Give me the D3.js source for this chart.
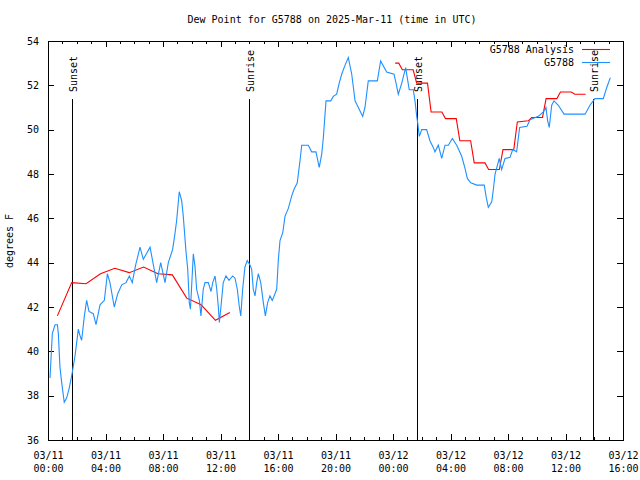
<!DOCTYPE html>
<html>
<head>
<meta charset="utf-8">
<script src="https://cdn.jsdelivr.net/npm/d3@7"></script>
<style>
  html, body { margin: 0; padding: 0; background: #fff; }
  text { font-family: "DejaVu Sans Mono", "Liberation Mono", monospace; font-size: 10px; fill: #000; }
</style>
</head>
<body>
<svg id="chart" width="640" height="480"></svg>
<script>
// ---------- DATA (hours after 03/11 00:00 UTC) ----------
const title = "Dew Point for G5788 on 2025-Mar-11 (time in UTC)";
const yLabel = "degrees F";
const xTickHours = [0, 4, 8, 12, 16, 20, 24, 28, 32, 36, 40];
const xTickDates = ["03/11","03/11","03/11","03/11","03/11","03/11","03/12","03/12","03/12","03/12","03/12"];
const xTickTimes = ["00:00","04:00","08:00","12:00","16:00","20:00","00:00","04:00","08:00","12:00","16:00"];
const yTicks = [36, 38, 40, 42, 44, 46, 48, 50, 52, 54];

const sunNames = ["Sunset", "Sunrise", "Sunset", "Sunrise"];
const sunHours = [1.69, 14.0, 25.69, 37.93];

const obsHours = [0.14,0.30,0.49,0.65,0.72,0.83,0.95,1.13,1.30,1.46,1.65,1.88,2.11,2.23,2.34,2.53,2.69,2.85,3.15,3.34,
  3.62,3.92,4.13,4.31,4.61,4.85,5.13,5.43,5.66,5.86,6.10,6.40,6.63,7.10,7.56,7.84,8.14,8.37,8.67,8.83,
  8.95,9.13,9.30,9.41,9.60,9.72,9.83,9.91,10.11,10.23,10.34,10.53,10.64,10.80,10.92,11.15,11.34,11.46,11.62,11.74,
  11.85,11.92,12.03,12.19,12.38,12.59,12.85,13.01,13.17,13.31,13.41,13.54,13.70,13.86,14.05,14.17,14.28,14.40,14.52,14.63,
  14.80,14.98,15.12,15.28,15.44,15.60,15.79,15.91,16.02,16.14,16.33,16.49,16.72,16.95,17.11,17.34,17.53,17.65,18.11,18.34,
  18.64,18.87,19.04,19.15,19.34,19.67,19.85,20.08,20.26,20.43,20.66,20.89,21.13,21.36,21.59,21.89,22.05,22.28,22.91,23.14,
  23.56,24.07,24.21,24.37,24.61,24.88,25.13,25.41,25.53,25.65,25.72,25.83,26.00,26.34,26.57,26.80,26.92,27.15,27.39,27.62,
  27.85,28.13,28.43,28.78,29.01,29.17,29.41,29.82,30.35,30.47,30.63,30.87,30.98,31.10,31.39,31.56,31.79,32.14,32.33,32.60,
  32.81,33.32,33.53,34.11,34.46,34.64,34.76,34.87,35.04,35.20,35.50,35.90,37.36,37.70,38.05,38.63,38.87,39.12];
const obsValues = [38.8,40.8,41.2,41.2,40.8,39.3,38.6,37.7,37.9,38.3,38.9,39.8,41.0,40.7,40.5,41.6,42.3,41.8,41.7,41.2,
  42.1,42.3,43.5,43.1,42.0,42.6,43.0,43.1,43.4,43.1,43.9,44.7,44.15,44.7,43.1,44.0,43.1,44.0,44.6,45.3,
  45.9,47.2,46.8,46.1,44.5,43.7,42.2,41.9,44.4,43.8,42.8,42.3,41.6,42.8,43.1,43.1,42.7,43.1,43.4,42.8,
  42.0,41.3,42.0,43.1,43.4,43.2,43.4,43.3,42.8,42.0,41.6,42.8,43.8,44.1,43.9,43.7,42.8,42.5,43.1,43.5,
  43.1,42.2,41.6,42.2,42.5,42.3,42.6,42.8,44.1,45.0,45.35,46.1,46.45,47.0,47.3,47.6,48.6,49.3,49.3,49.0,
  49.0,48.3,48.9,49.6,51.3,51.3,51.5,51.6,52.1,52.5,52.9,53.25,52.5,51.3,51.0,50.6,51.0,52.2,52.2,53.1,
  52.6,52.5,52.1,51.6,52.1,52.8,51.8,51.8,51.3,50.6,50.3,49.7,50.0,50.0,49.5,49.2,49.0,49.3,48.7,49.3,
  49.3,49.6,49.3,48.8,48.25,47.8,47.6,47.5,47.5,47.0,46.5,46.75,47.3,48.0,48.7,48.2,48.7,48.75,49.1,49.0,
  50.1,50.15,50.45,50.6,50.8,51.0,50.4,50.1,51.1,51.3,51.1,50.7,50.7,51.1,51.4,51.4,51.9,52.35];

// Analysis: hourly values (null = gap in the record)
const anaHours = [0.65,1.65,2.65,3.65,4.65,5.65,6.65,7.65,8.65,9.65,10.65,11.65,12.65,
  18.0,
  24.15,24.4,24.65,25.4,25.65,26.4,26.65,27.4,27.65,28.4,28.65,29.4,29.65,30.4,30.65,31.4,
  31.65,32.4,32.65,33.4,33.65,34.4,34.65,35.4,35.65,36.4,36.65,37.4];
const anaValues = [41.6,43.1,43.05,43.5,43.75,43.55,43.8,43.5,43.45,42.4,42.1,41.4,41.75,
  null,
  53.0,53.0,52.7,52.7,52.1,52.1,50.8,50.8,50.5,50.5,49.5,49.5,48.5,48.5,48.2,48.2,
  49.1,49.1,50.35,50.4,50.55,50.55,51.4,51.4,51.7,51.7,51.6,51.6];

const seriesNames = ["G5788 Analysis", "G5788"];
const seriesColors = ["#ff0000", "#1e90ff"];

// ---------- CHART ----------
const svg = d3.select("#chart");
const L = 48, R = 623, T = 41, B = 440;
const x = d3.scaleLinear().domain([0, 40]).range([L, R]);
const y = d3.scaleLinear().domain([36, 54]).range([B, T]);

svg.append("rect").attr("width", 640).attr("height", 480).attr("fill", "#fff");

// title
svg.append("text").attr("x", 332).attr("y", 23).attr("text-anchor", "middle").text(title);
// y label
svg.append("text").attr("transform", "translate(13,241) rotate(-90)")
  .attr("text-anchor", "middle").text(yLabel);

const minorHours = d3.range(0, 41);

function styleAxis(g) {
  g.select(".domain").remove();
  g.selectAll("line").attr("stroke", "#000").attr("shape-rendering", "crispEdges");
}

// bottom axis - minor
svg.append("g").attr("transform", `translate(0,${B})`)
  .call(d3.axisBottom(x).tickValues(minorHours).tickSize(-3).tickFormat(""))
  .call(styleAxis);
// bottom axis - major with labels
const bx = svg.append("g").attr("transform", `translate(0,${B})`)
  .call(d3.axisBottom(x).tickValues(xTickHours).tickSize(-6).tickPadding(0).tickFormat(""))
  .call(styleAxis);
bx.selectAll(".tick").each(function(d, i) {
  const t = d3.select(this).append("text").attr("text-anchor", "middle")
    .style("font-family", "'DejaVu Sans Mono', monospace").style("font-size", "10px").attr("fill", "#000");
  t.append("tspan").attr("x", 0).attr("y", 19).text(xTickDates[i]);
  t.append("tspan").attr("x", 0).attr("y", 32).text(xTickTimes[i]);
});
// top axis mirror
svg.append("g").attr("transform", `translate(0,${T})`)
  .call(d3.axisTop(x).tickValues(minorHours).tickSize(-3).tickFormat(""))
  .call(styleAxis);
svg.append("g").attr("transform", `translate(0,${T})`)
  .call(d3.axisTop(x).tickValues(xTickHours).tickSize(-6).tickFormat(""))
  .call(styleAxis);

// left axis
const ly = svg.append("g").attr("transform", `translate(${L},0)`)
  .call(d3.axisLeft(y).tickValues(yTicks).tickSize(-6).tickPadding(9).tickFormat(d3.format("d")))
  .call(styleAxis);
ly.selectAll(".tick text").style("font-family", "'DejaVu Sans Mono', monospace").style("font-size", "10px").attr("fill", "#000");
// right axis mirror
svg.append("g").attr("transform", `translate(${R},0)`)
  .call(d3.axisRight(y).tickValues(yTicks).tickSize(-6).tickFormat(""))
  .call(styleAxis);

// frame
svg.append("rect").attr("x", L).attr("y", T).attr("width", R - L).attr("height", B - T)
  .attr("fill", "none").attr("stroke", "#000").attr("shape-rendering", "crispEdges");

// sunrise / sunset markers
sunHours.forEach((h, i) => {
  const sx = Math.round(x(h)) + 0.5;
  svg.append("line").attr("x1", sx).attr("x2", sx).attr("y1", 99).attr("y2", B)
    .attr("stroke", "#000").attr("stroke-width", 1).attr("shape-rendering", "crispEdges");
  svg.append("text").attr("transform", `translate(${sx + 4},92) rotate(-90)`)
    .attr("text-anchor", "start").text(sunNames[i]);
});

// series
const obs = obsHours.map((h, i) => ({ h, v: obsValues[i] }));
const ana = anaHours.map((h, i) => ({ h, v: anaValues[i] }));
const line = d3.line().defined(d => d.v !== null).x(d => x(d.h)).y(d => y(d.v));

svg.append("path").datum(ana).attr("d", line)
  .attr("fill", "none").attr("stroke", seriesColors[0]).attr("stroke-width", 1.1);
svg.append("path").datum(obs).attr("d", line)
  .attr("fill", "none").attr("stroke", seriesColors[1]).attr("stroke-width", 1.1);

// legend
const legY = [49, 62];
seriesNames.forEach((name, i) => {
  svg.append("text").attr("x", 574).attr("y", legY[i] + 4).attr("text-anchor", "end").text(name);
  svg.append("line").attr("x1", 582).attr("x2", 610).attr("y1", legY[i] + 0.5).attr("y2", legY[i] + 0.5)
    .attr("stroke", seriesColors[i]).attr("stroke-width", 1.1);
});
</script>
</body>
</html>
